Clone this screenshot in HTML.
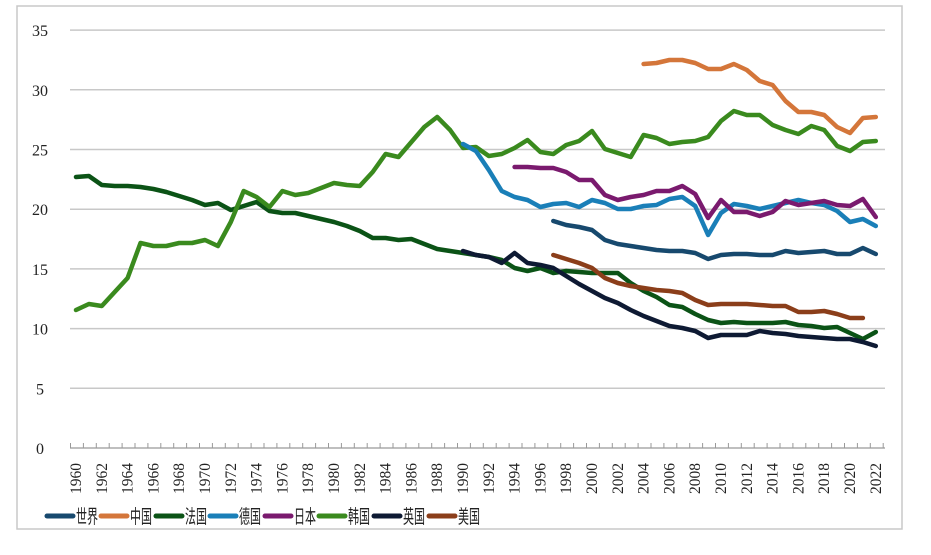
<!DOCTYPE html>
<html><head><meta charset="utf-8"><style>
body{margin:0;background:#fff;width:931px;height:555px;overflow:hidden}
svg{display:block}
</style></head><body>
<svg id="s" width="931" height="555" xmlns="http://www.w3.org/2000/svg">
<rect x="17" y="6" width="885" height="523" fill="#fff" stroke="#c8c8c8" stroke-width="1.5"/>
<g id="g"></g>
</svg>
<script>
const NS="http://www.w3.org/2000/svg",g=document.getElementById('g');
function el(t,a,txt){const e=document.createElementNS(NS,t);for(const k in a)e.setAttribute(k,a[k]);if(txt!=null)e.textContent=txt;g.appendChild(e);return e;}
const X=y=>76+12.9*(y-1960);
for(let v=0;v<=35;v+=5){const y=448-11.94*v;
 if(v>0)el('line',{x1:70,x2:885,y1:y,y2:y,stroke:'#c8c8c8','stroke-width':1.5});
 el('text',{x:40,y:y+6,'font-family':'Liberation Serif, serif','font-size':16,'text-anchor':'middle',fill:'#222'},v);}
el('line',{x1:70,x2:885,y1:448,y2:448,stroke:'#999','stroke-width':1.2});
for(let yr=1960;yr<=2023;yr++){const x=70+12.9*(yr-1960)+0.5;el('line',{x1:x,x2:x,y1:443,y2:448,stroke:'#999','stroke-width':1});}
for(let yr=1960;yr<=2022;yr+=2){const x=X(yr)+5;el('text',{transform:`translate(${x},494) rotate(-90)`,'font-family':'Liberation Serif, serif','font-size':15.5,fill:'#222'},yr);}
const S=[
['#0b5316',1960,[177,176,185,186,186,187,189,192,196,200,205,203,210,206,202,211,213,213,216,219,222,226,231,238,238,240,239,244,249,251,253,255,257,260,268,271,268,273,271,272,273,273,273,283,291,297,305,307,314,320,323,322,323,323,323,322,325,326,328,327,333,339,332]],
['#3a8a1e',1960,[310,304,306,292,278,243,246,246,243,243,240,246,222,191,197,207,191,195,193,188,183,185,186,172,154,157,142,127,117,130,148,147,156,154,148,140,152,154,145,141,131,149,153,157,135,138,144,142,141,137,121,111,115,115,125,130,134,126,130,146,151,142,141]],
['#d4763a',2004,[64,63,60,60,63,69,69,64,70,81,85,101,112,112,115,127,133,118,117]],
['#1a7fb8',1990,[144,151,170,191,197,200,207,204,203,207,200,203,209,209,206,205,199,197,206,235,213,204,206,209,206,203,200,203,205,211,222,219,226]],
['#7a1a6e',1994,[167,167,168,168,172,180,180,195,200,197,195,191,191,186,194,218,200,212,212,216,212,201,205,203,201,205,206,199,217]],
['#17496e',1997,[221,225,227,230,240,244,246,248,250,251,251,253,259,255,254,254,255,255,251,253,252,251,254,254,248,254]],
['#0e1a33',1990,[251,255,257,263,253,263,265,268,276,284,291,298,303,310,316,321,326,328,331,338,335,335,335,331,333,334,336,337,338,339,339,342,346]],
['#8b3e1a',1997,[255,259,263,268,278,283,286,288,290,291,293,300,305,304,304,304,305,306,306,312,312,311,314,318,318]]];
for(const [c,s,d] of S){el('polyline',{points:d.map((y,i)=>X(s+i)+','+y).join(' '),fill:'none',stroke:c,'stroke-width':4.5,'stroke-linejoin':'round','stroke-linecap':'round'});}
const L=[['#17496e','世界',47],['#d4763a','中国',101],['#0b5316','法国',156],['#1a7fb8','德国',210],['#7a1a6e','日本',265],['#3a8a1e','韩国',319],['#0e1a33','英国',374],['#8b3e1a','美国',429]];
for(const [c,t,x] of L){el('line',{x1:x,x2:x+26,y1:516,y2:516,stroke:c,'stroke-width':5,'stroke-linecap':'round'});
 el('text',{x:x+29,y:523,'font-family':'Liberation Sans, Noto Sans CJK SC, sans-serif','font-size':19,fill:'#222',textLength:22,lengthAdjust:'spacingAndGlyphs'},t);}
</script>
</body></html>
